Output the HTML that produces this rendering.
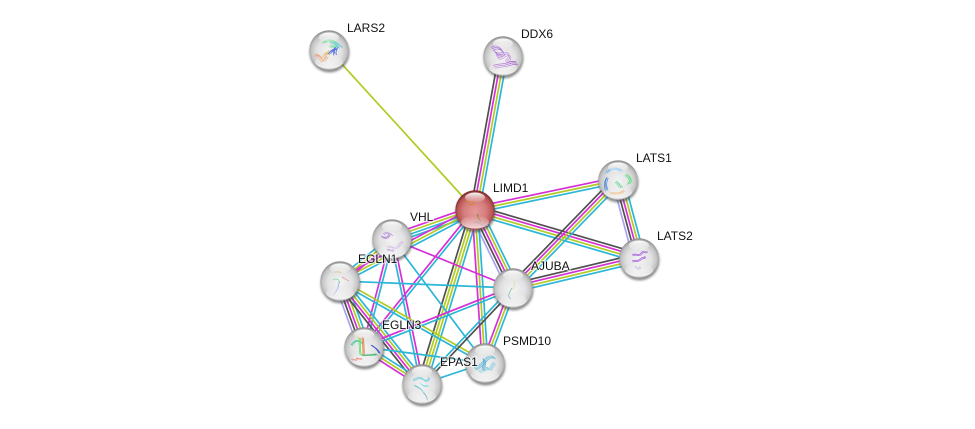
<!DOCTYPE html>
<html>
<head>
<meta charset="utf-8">
<style>
html,body{margin:0;padding:0;background:#fff;width:975px;height:429px;overflow:hidden}
svg{display:block}
text{font-family:"Liberation Sans",sans-serif;font-size:12px;fill:#111;stroke:#fff;stroke-width:2.5px;stroke-opacity:.6;paint-order:stroke;stroke-linejoin:round}
</style>
</head>
<body>
<svg id="s" width="975" height="429" viewBox="0 0 975 429" xmlns="http://www.w3.org/2000/svg">
<defs>
<radialGradient id="g" cx="50%" cy="54%" r="52%">
<stop offset="0" stop-color="#f4f4f4"/><stop offset=".6" stop-color="#e2e2e2"/><stop offset=".85" stop-color="#c6c6c6"/><stop offset=".96" stop-color="#a8a8a8"/><stop offset="1" stop-color="#909090"/>
</radialGradient>
<radialGradient id="r" cx="50%" cy="54%" r="52%">
<stop offset="0" stop-color="#e49a9a"/><stop offset=".55" stop-color="#d67c7c"/><stop offset=".85" stop-color="#b95656"/><stop offset="1" stop-color="#7e2c2c"/>
</radialGradient>
<linearGradient id="h" x1="0" y1="0" x2="0" y2="1">
<stop offset="0" stop-color="#fff" stop-opacity=".95"/><stop offset="1" stop-color="#fff" stop-opacity=".05"/>
</linearGradient>
<linearGradient id="b" x1="0" y1="0" x2="0" y2="1">
<stop offset="0" stop-color="#fff" stop-opacity="0"/><stop offset="1" stop-color="#fff" stop-opacity=".8"/>
</linearGradient>
<filter id="bl" x="-30%" y="-30%" width="160%" height="160%"><feGaussianBlur stdDeviation="1"/></filter>
</defs>
<g id="edges" fill="none" stroke-width="1.7"></g>
<g id="nodes"></g>
<g>
<text x="347" y="32">LARS2</text>
<text x="521" y="38">DDX6</text>
<text x="493" y="192">LIMD1</text>
<text x="636" y="162">LATS1</text>
<text x="657" y="240">LATS2</text>
<text x="410" y="221">VHL</text>
<text x="531" y="270">AJUBA</text>
<text x="358" y="263">EGLN1</text>
<text x="382" y="329">EGLN3</text>
<text x="503" y="345">PSMD10</text>
<text x="440" y="366">EPAS1</text>
</g>
</svg>
<script>
var N={LARS2:[329,50],DDX6:[503,56],LIMD1:[475,210],LATS1:[618,180],LATS2:[639,258],VHL:[392,239],AJUBA:[513,288],EGLN1:[340,281],EGLN3:[364,347],PSMD10:[485,363],EPAS1:[422,384]};
var C={k:'#505050',m:'#d62fd6',g:'#b2cb22',c:'#2cb6d8',b:'#a9a2f2'};
var E=[
['LARS2','LIMD1','g'],['DDX6','LIMD1','kmgc'],['LIMD1','LATS1','mgc'],['LIMD1','LATS2','kmgc'],
['LIMD1','AJUBA','bkmgc'],['LIMD1','VHL','mgcc'],['LIMD1','EGLN1','mgc'],['LIMD1','EGLN3','mc'],
['LIMD1','EPAS1','kggc'],['LIMD1','PSMD10','mgc'],['LATS1','LATS2','bkmgc'],['LATS1','AJUBA','kmgc'],
['LATS2','AJUBA','kmgc'],['VHL','AJUBA','m'],['VHL','EGLN1','cgm'],['VHL','EGLN3','mc'],
['VHL','EPAS1','cm'],['VHL','PSMD10','c'],['EGLN1','AJUBA','c'],['EGLN1','EGLN3','bkmgc'],
['EGLN1','EPAS1','kmgc'],['EGLN1','PSMD10','gc'],['EGLN3','AJUBA','mc'],['EGLN3','EPAS1','cgm'],
['EGLN3','PSMD10','c'],['EPAS1','AJUBA','ck'],['EPAS1','PSMD10','c'],['AJUBA','PSMD10','mgc']];
var NS='http://www.w3.org/2000/svg';
function mk(t,a,p){var e=document.createElementNS(NS,t);for(var k in a)e.setAttribute(k,a[k]);p.appendChild(e);return e}
var eg=document.getElementById('edges'),ng=document.getElementById('nodes');
E.forEach(function(e){
 var a=N[e[0]],b=N[e[1]],dx=b[0]-a[0],dy=b[1]-a[1],l=Math.sqrt(dx*dx+dy*dy),nx=-dy/l,ny=dx/l;
 if(Math.abs(dx)>Math.abs(dy)){if(ny>0){nx=-nx;ny=-ny}}else{if(nx>0){nx=-nx;ny=-ny}}
 var s=e[2],n=s.length,sp=2.9;
 for(var i=0;i<n;i++){var o=((n-1)/2-i)*sp;
  mk('line',{x1:a[0]+nx*o,y1:a[1]+ny*o,x2:b[0]+nx*o,y2:b[1]+ny*o,stroke:C[s[i]]},eg)}
});
var Q={
LARS2:[['#e8a080','M-14 5c3-3 5 3 7 5s3-3 5-4'],['#e8c070','M-8 11c2-4 3-8 6-9s-1 6 2-2'],['#80e0a0','M-6-8c4-3 9-3 13 0s-1 5-6 3'],['#70c8e8','M2-9c4 2 8 2 10 6'],['#5070e0','M0 3c2-4 5-3 7-6s-3 4-1 7']],
DDX6:[['#b080d8','M-11-7c4-3 9-1 11 3s-6 3-8 0'],['#a868d0','M-9 11c5-2 10-1 15-3s5-1 8-1'],['#c8a0e0','M-6 1c4 3 8-4 11-3s2 6-2 8']],
LIMD1:[['#d08020','M-10-9c3 1 6 0 9 1s-3 3-5 3'],['#708020','M3 4c-1 3 1 5 3 8'],['#806080','M-1 13c3-3 8 2 11 5'],['#5050a0','M10 16l3 1']],
LATS1:[['#80c0f0','M-12-8c5-5 11-5 16-2'],['#60e080','M8-6c4 2 6 7 2 9'],['#4080d8','M-11-3c-2 4-2 9 0 13'],['#e0a050','M-8 12c4 1 9 2 14-2'],['#70d8a0','M-2 1c3 1 3 6 6 5']],
LATS2:[['#b070e0','M-7-3c3-3 6 2 9-2s3 1 6-2'],['#a860e0','M-7 3c3-2 5 1 8-2s4 0 5-3'],['#c0a8d8','M-4 8c2 3 4 3 5 0']],
VHL:[['#c0a0e0','M-9-5c3-3 7-1 9 1'],['#b080d8','M-11-3c3 2 7 2 8-2'],['#d0b8e8','M-5 8c3-3 7 3 10 0s3-6 6-5'],['#b080d8','M-5 11c2-3 5 3 6-1']],
AJUBA:[['#d0e0a0','M1-7c1 3 0 6-1 9'],['#80c8a0','M-1 0c-2 3-3 5-3 7'],['#8098e0','M-5 7c1 2 2 4 3 4']],
EGLN1:[['#e0b070','M-6-9c3 0 6-1 7 1'],['#80d8a0','M-7-1c3-2 6-1 7 3'],['#e8a0a0','M2-4c3 2 5 3 7 4'],['#90b0f0','M-1 1c0 6-3 10-6 13']],
EGLN3:[['#e0c890','M-9-12c3 2 6 4 8 7'],['#40c8a0','M-13-2c3-5 7-6 10-2'],['#60e060','M-5-10c0 6 0 12 1 18'],['#e87040','M-2-10c1 6 1 12 1 18'],['#3050d0','M7-2c3 2 6 4 8 8'],['#30b060','M-3 8c5 0 10 0 15-1'],['#e05040','M-13 13c2-3 3 2 5-1s3 2 5-1']],
PSMD10:[['#70c0d8','M-10 6c4-2 8-5 11-9s7-3 9-2'],['#90d0e0','M-6 9c4-1 8-5 10-3s3-5 6-6'],['#60b0d0','M-1-4c1 4 0 8-1 11']],
EPAS1:[['#70d0e0','M-9-4c4-3 8-3 10-1s5 2 6-2'],['#80c8d8','M-8 1c4 2 7 3 9 7'],['#5090a0','M1 8c2 2 4 5 4 8'],['#90e0e8','M-2-1c3 3 6 3 8 2']]};
var COPIES={LARS2:[[0,0],[1.5,1],[-1,1.5]],DDX6:[[0,0],[1,1.5],[-1,-1.5]],LATS1:[[0,0],[1.2,1],[-1,1.4]],LATS2:[[0,0],[.8,1]],EGLN3:[[0,0],[1.2,.6]],PSMD10:[[0,0],[1,1],[-1,-1]],EPAS1:[[0,0],[.8,1]],VHL:[[0,0],[1,1]]};
Object.keys(N).forEach(function(k){
 var p=N[k],x=p[0],y=p[1],red=k=='LIMD1';
 var G=mk('g',{transform:'translate('+x+' '+y+')'},ng);
 mk('circle',{cx:.5,cy:2.5,r:20,fill:'#444','fill-opacity':.6,filter:'url(#bl)'},G);
 mk('circle',{r:19.7,fill:red?'url(#r)':'url(#g)'},G);
 var S=mk('g',{fill:'none','stroke-width':'.8'},G);
 (COPIES[k]||[[0,0]]).forEach(function(c){
  (Q[k]||[]).forEach(function(q){mk('path',{d:q[1],stroke:q[0],transform:'translate('+c[0]+' '+c[1]+')'},S)});
 });
 mk('ellipse',{cx:0,cy:-12.5,rx:10,ry:5,fill:'url(#h)'},G);
 mk('ellipse',{cx:0,cy:12,rx:14,ry:6.5,fill:'url(#b)'},G);
});
</script>
</body>
</html>
